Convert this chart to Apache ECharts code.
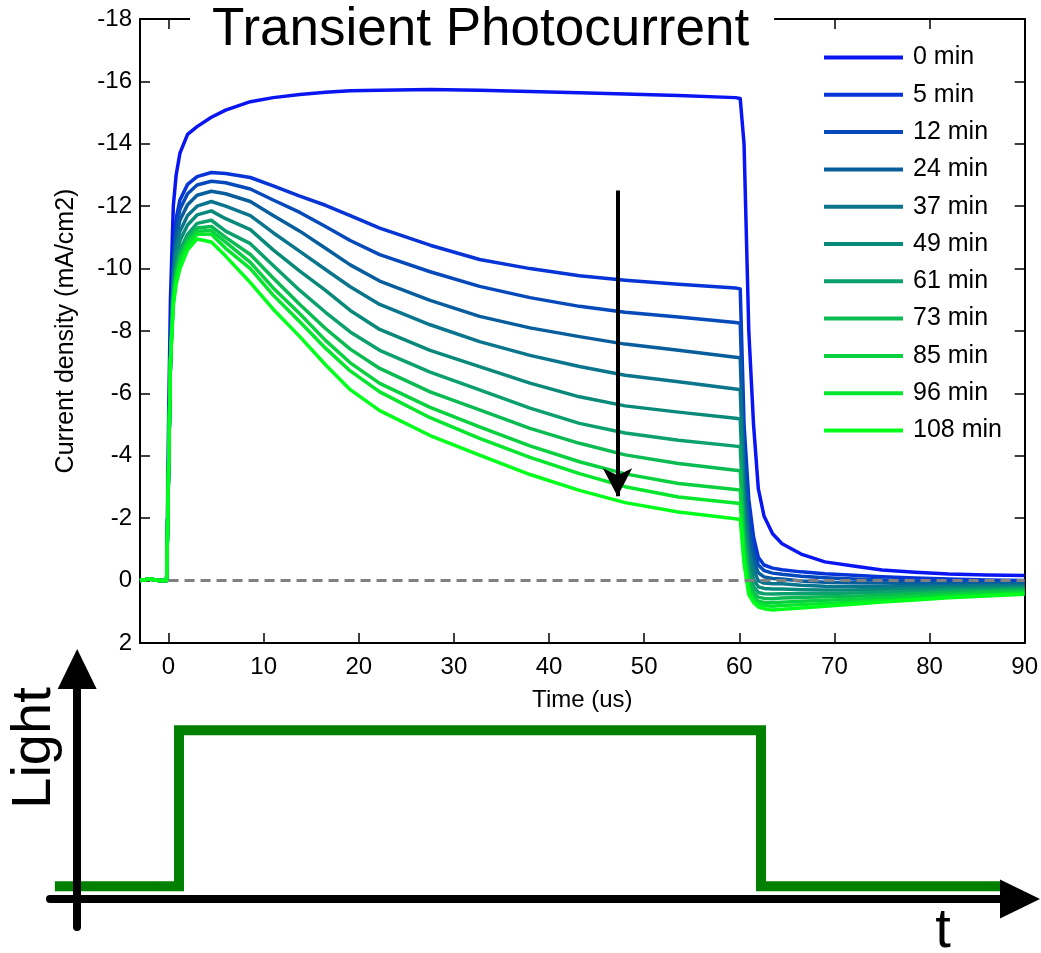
<!DOCTYPE html>
<html>
<head>
<meta charset="utf-8">
<script src="https://cdn.jsdelivr.net/npm/echarts@6/dist/echarts.min.js"></script>
<style>
  html, body { margin: 0; padding: 0; background: #fff; }
  #chart { width: 1041px; height: 953px; }
</style>
</head>
<body>
<div id="chart"></div>
<script>
// time axis shared by all curves (us)
const timeUs = [-3, -2, -1, -0.2, 0, 0.2, 0.5, 0.8, 1.2, 2, 3, 4.5, 6, 8.6, 11, 13.8, 16.5, 19.1, 22.2, 27.5,
  32.7, 38, 43.2, 48, 53.6, 59.6, 60.1, 60.5, 61, 61.5, 62, 62.6, 63.5, 64.5, 66.5, 69, 72, 75, 78.5, 82, 86, 90];

// current density (mA/cm2)
const min0 = [0, -0.05, 0, 0, -5, -9, -12, -13.0, -13.7, -14.3, -14.55, -14.85, -15.08, -15.35, -15.48, -15.58, -15.65, -15.7, -15.72, -15.74,
  -15.72, -15.68, -15.64, -15.6, -15.55, -15.48, -15.45, -14.0, -8.0, -5.0, -2.95, -2.07, -1.5, -1.18, -0.85, -0.6, -0.47, -0.34, -0.27, -0.21, -0.18, -0.16];
const min5 = [0, -0.05, 0, 0, -3.5, -7, -10.3, -11.6, -12.2, -12.7, -12.95, -13.08, -13.05, -12.92, -12.65, -12.32, -12.03, -11.7, -11.3, -10.75,
  -10.29, -10.0, -9.77, -9.63, -9.5, -9.38, -9.35, -5.0, -2.6, -1.4, -0.75, -0.5, -0.4, -0.35, -0.28, -0.22, -0.17, -0.12, -0.08, -0.05, -0.02, 0.0];
const min12 = [0, -0.05, 0, 0, -3.5, -7, -10.1, -11.3, -11.9, -12.4, -12.68, -12.8, -12.75, -12.55, -12.2, -11.8, -11.35, -10.9, -10.45, -9.9,
  -9.43, -9.07, -8.79, -8.6, -8.45, -8.27, -8.25, -4.3, -2.0, -1.0, -0.5, -0.32, -0.24, -0.2, -0.14, -0.09, -0.05, -0.02, 0.01, 0.03, 0.04, 0.05];
const min24 = [0, -0.05, 0, 0, -3.5, -7, -9.9, -11.0, -11.55, -12.05, -12.35, -12.48, -12.4, -12.15, -11.7, -11.2, -10.65, -10.12, -9.6, -8.98,
  -8.47, -8.1, -7.82, -7.58, -7.38, -7.16, -7.14, -3.5, -1.5, -0.65, -0.25, -0.12, -0.07, -0.05, 0.01, 0.05, 0.07, 0.08, 0.09, 0.1, 0.1, 0.1];
const min37 = [0, -0.05, 0, 0, -3.5, -7, -9.7, -10.7, -11.2, -11.7, -12.0, -12.15, -12.0, -11.7, -11.15, -10.55, -9.97, -9.42, -8.85, -8.2,
  -7.66, -7.22, -6.86, -6.58, -6.37, -6.14, -6.12, -2.8, -1.05, -0.35, 0.0, 0.08, 0.1, 0.1, 0.15, 0.18, 0.19, 0.19, 0.18, 0.17, 0.16, 0.15];
const min49 = [0, -0.05, 0, 0, -3.5, -7, -9.5, -10.4, -10.9, -11.4, -11.72, -11.85, -11.6, -11.25, -10.6, -9.92, -9.3, -8.66, -8.05, -7.38,
  -6.86, -6.33, -5.89, -5.6, -5.4, -5.2, -5.18, -2.2, -0.7, -0.05, 0.2, 0.25, 0.27, 0.27, 0.29, 0.3, 0.3, 0.28, 0.26, 0.24, 0.22, 0.2];
const min61 = [0, -0.05, 0, 0, -3.5, -7, -9.3, -10.1, -10.6, -11.1, -11.45, -11.55, -11.2, -10.8, -10.1, -9.3, -8.6, -7.97, -7.38, -6.68,
  -6.11, -5.53, -5.04, -4.73, -4.5, -4.31, -4.3, -1.7, -0.35, 0.2, 0.38, 0.42, 0.43, 0.42, 0.42, 0.41, 0.4, 0.37, 0.34, 0.3, 0.28, 0.25];
const min73 = [0, -0.05, 0, 0, -3.5, -7, -9.1, -9.9, -10.4, -10.95, -11.3, -11.35, -11.0, -10.45, -9.7, -8.85, -8.08, -7.42, -6.8, -6.05,
  -5.47, -4.88, -4.4, -4.03, -3.75, -3.54, -3.52, -1.3, -0.05, 0.38, 0.53, 0.57, 0.58, 0.56, 0.54, 0.52, 0.5, 0.46, 0.42, 0.37, 0.33, 0.3];
const min85 = [0, -0.05, 0, 0, -3.5, -7, -9.0, -9.8, -10.3, -10.85, -11.2, -11.22, -10.85, -10.2, -9.38, -8.55, -7.7, -6.98, -6.32, -5.55,
  -4.93, -4.32, -3.81, -3.42, -3.11, -2.92, -2.9, -1.0, 0.15, 0.52, 0.66, 0.7, 0.71, 0.69, 0.66, 0.63, 0.6, 0.56, 0.5, 0.44, 0.39, 0.35];
const min96 = [0, -0.05, 0, 0, -3.5, -7, -8.9, -9.7, -10.2, -10.75, -11.1, -11.1, -10.65, -10.0, -9.15, -8.3, -7.45, -6.72, -6.05, -5.22,
  -4.56, -3.95, -3.43, -3.01, -2.68, -2.49, -2.47, -0.75, 0.3, 0.63, 0.76, 0.8, 0.82, 0.8, 0.77, 0.73, 0.69, 0.64, 0.58, 0.51, 0.45, 0.4];
const min108 = [0, -0.05, 0, 0, -3.5, -7, -8.8, -9.5, -10.0, -10.6, -10.95, -10.85, -10.4, -9.55, -8.7, -7.82, -6.92, -6.12, -5.45, -4.65,
  -4.02, -3.4, -2.89, -2.5, -2.2, -1.98, -1.96, -0.55, 0.45, 0.7, 0.85, 0.9, 0.94, 0.92, 0.88, 0.82, 0.76, 0.69, 0.62, 0.55, 0.49, 0.44];

const curveNames = ['0 min', '5 min', '12 min', '24 min', '37 min', '49 min', '61 min', '73 min', '85 min', '96 min', '108 min'];
const curves = [min0, min5, min12, min24, min37, min49, min61, min73, min85, min96, min108];
const xTicks = [0, 10, 20, 30, 40, 50, 60, 70, 80, 90];

// down arrow annotation (time, from, to)
const arrowTime = 47.2;
const arrowFrom = -12.5;
const arrowTo = -2.7;

// light pulse schematic
const lightT = [-2.3, 10.5, 10.5, 70.5, 70.5, 95.2];
const lightLevel = [0.5, 0.5, 6.6, 6.6, 0.5, 0.5];

const lineColors = ['#0A16F2', '#0634D6', '#0549BA', '#085E9C', '#0A758C', '#08897A', '#0CA06C', '#0ABB52', '#08D03E', '#06E62C', '#00FF1A'];
const FONT = '"Liberation Sans", Arial, sans-serif';

const chart = echarts.init(document.getElementById('chart'));

const series = curves.map((vals, i) => ({
  name: curveNames[i],
  type: 'line',
  xAxisIndex: 0,
  yAxisIndex: 0,
  data: timeUs.map((t, j) => [t, vals[j]]),
  symbol: 'none',
  showSymbol: false,
  lineStyle: { color: lineColors[i], width: 3.5, join: 'round' },
  itemStyle: { color: lineColors[i] },
  z: 2
}));

// zero reference
series.push({
  name: 'zero',
  type: 'line',
  xAxisIndex: 0,
  yAxisIndex: 0,
  data: [[0, 0], [90, 0]],
  symbol: 'none',
  silent: true,
  lineStyle: { color: '#808080', width: 3, type: [10, 6] },
  z: 3
});

// arrow
series.push({
  name: 'arrow',
  type: 'line',
  xAxisIndex: 0,
  yAxisIndex: 0,
  data: [],
  markLine: {
    silent: true,
    animation: false,
    label: { show: false },
    lineStyle: { color: '#000', width: 4, type: 'solid' },
    data: [[
      { coord: [arrowTime, arrowFrom], symbol: 'none' },
      { coord: [arrowTime, arrowTo], symbol: 'arrow', symbolSize: [22, 28] }
    ]]
  },
  z: 4
});

// light pulse
series.push({
  name: 'Light',
  type: 'line',
  xAxisIndex: 2,
  yAxisIndex: 2,
  data: lightT.map((t, j) => [t, lightLevel[j]]),
  symbol: 'none',
  silent: true,
  lineStyle: { color: '#008000', width: 10, join: 'miter', cap: 'butt' },
  z: 1
});

const tickStyle = { color: '#000', width: 1.5 };
const lineStyleAxis = { color: '#000', width: 2 };

chart.setOption({
  animation: false,
  backgroundColor: '#fff',
  textStyle: { fontFamily: FONT },
  title: {
    text: 'Transient Photocurrent',
    left: 190,
    top: 4,
    padding: [0, 25, 0, 22],
    backgroundColor: '#fff',
    textStyle: { fontSize: 53, lineHeight: 53, fontWeight: 'normal', color: '#000', fontFamily: FONT },
    z: 10
  },
  legend: {
    orient: 'vertical',
    left: 819,
    top: 40,
    icon: 'rect',
    itemWidth: 79,
    itemHeight: 4,
    itemGap: 12.3,
    data: curveNames,
    textStyle: { fontSize: 25, lineHeight: 25, color: '#000', fontFamily: FONT, padding: [0, 0, 0, 5] }
  },
  grid: [
    { left: 140, top: 19, right: 14, bottom: 310, containLabel: false },
    { left: 50, top: 669, right: 21, bottom: 26, containLabel: false }
  ],
  xAxis: [
    {
      type: 'value', gridIndex: 0, min: -3, max: 90, position: 'bottom',
      axisLine: { onZero: false, lineStyle: lineStyleAxis },
      axisTick: { inside: true, length: 10, customValues: xTicks, lineStyle: tickStyle },
      axisLabel: { customValues: xTicks, fontSize: 24, color: '#000', margin: 12, fontFamily: FONT },
      splitLine: { show: false },
      name: 'Time (us)', nameLocation: 'middle', nameGap: 45,
      nameTextStyle: { fontSize: 24, color: '#000', fontFamily: FONT }
    },
    {
      type: 'value', gridIndex: 0, min: -3, max: 90, position: 'top',
      axisLine: { onZero: false, lineStyle: lineStyleAxis },
      axisTick: { inside: true, length: 10, customValues: xTicks, lineStyle: tickStyle },
      axisLabel: { show: false },
      splitLine: { show: false }
    },
    {
      type: 'value', gridIndex: 1, min: -2.8, max: 97.2, z: 10,
      axisLine: { onZero: true, symbol: ['none', 'triangle'], symbolSize: [39, 40], lineStyle: { color: '#000', width: 8 } },
      axisTick: { show: false }, axisLabel: { show: false }, splitLine: { show: false }
    }
  ],
  yAxis: [
    {
      type: 'value', gridIndex: 0, min: -18, max: 2, interval: 2, inverse: true,
      axisLine: { onZero: false, lineStyle: lineStyleAxis },
      axisTick: { inside: true, length: 10, lineStyle: tickStyle },
      axisLabel: { fontSize: 24, color: '#000', margin: 8, fontFamily: FONT },
      splitLine: { show: false },
      name: 'Current density (mA/cm2)', nameLocation: 'middle', nameGap: 61,
      nameTextStyle: { fontSize: 25, color: '#000', fontFamily: FONT }
    },
    {
      type: 'value', gridIndex: 0, min: -18, max: 2, interval: 2, inverse: true, position: 'right',
      axisLine: { onZero: false, lineStyle: lineStyleAxis },
      axisTick: { inside: true, length: 10, lineStyle: tickStyle },
      axisLabel: { show: false },
      splitLine: { show: false }
    },
    {
      type: 'value', gridIndex: 1, min: -1.1, max: 9, z: 10,
      axisLine: { onZero: true, symbol: ['none', 'triangle'], symbolSize: [39, 40], lineStyle: { color: '#000', width: 8 } },
      axisTick: { show: false }, axisLabel: { show: false }, splitLine: { show: false }
    }
  ],
  graphic: [
    {
      type: 'text', x: 35, y: 748, rotation: Math.PI / 2,
      style: { text: 'Light', fontSize: 56, fontFamily: FONT, fill: '#000', align: 'center', verticalAlign: 'middle' }
    },
    {
      type: 'text', x: 943, y: 932,
      style: { text: 't', fontSize: 56, fontFamily: FONT, fill: '#000', align: 'center', verticalAlign: 'middle' }
    }
  ],
  series: series
});
</script>
</body>
</html>
